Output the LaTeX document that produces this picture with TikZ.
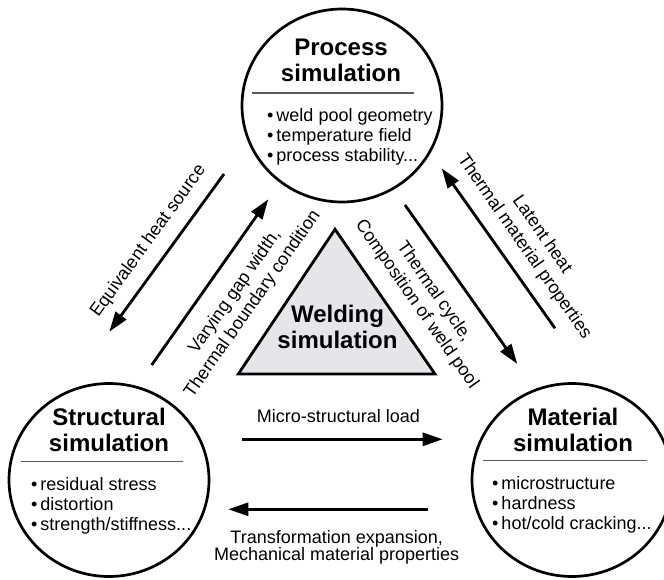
\documentclass[tikz,border=0pt]{standalone}
\usepackage{fontspec}
\setmainfont{Liberation Sans}
\usetikzlibrary{shapes.geometric,arrows.meta,positioning}
\definecolor{weldgrey}{RGB}{230,230,232}
\definecolor{rulegrey}{RGB}{90,90,90}

\begin{document}
\begin{tikzpicture}[x=1pt, y=-1pt,
    simcircle/.style={ellipse, draw, line width=2.7pt, minimum width=200pt,
        minimum height=193pt, inner sep=0pt},
    title/.style={font=\fontsize{24}{26}\selectfont\bfseries, align=center, inner sep=0pt},
    items/.style={font=\fontsize{18}{20}\selectfont, align=left, anchor=west, inner sep=0pt},
    lbl/.style={font=\fontsize{18}{21.5}\selectfont, align=center, inner sep=0pt},
    arr/.style={-{Triangle[length=20pt, width=13pt]}, line width=2.8pt},
    sep/.style={rulegrey, line width=1.2pt}
]
    \useasboundingbox (0,0) rectangle (664,580);

    % Process simulation
    \node[simcircle] (proc) at (342,105.5) {};
    \node[title] (proctitle) at (341,60.5) {Process\\simulation};
    \draw[sep] (252,93) -- (414,93);
    \node[items] (procitems) at (267,137) {\textbullet\,weld pool geometry\\
        \textbullet\,temperature field\\ \textbullet\,process stability...};

    % Structural simulation
    \node[simcircle] (struc) at (109,480) {};
    \node[title] (structitle) at (109,429.6) {Structural\\simulation};
    \draw[sep] (21,461.7) -- (183,461.7);
    \node[items] (strucitems) at (31,506) {\textbullet\,residual stress\\
        \textbullet\,distortion\\ \textbullet\,strength/stiffness...};

    % Material simulation
    \node[simcircle] (mat) at (572,480) {};
    \node[title] (mattitle) at (573,429.6) {Material\\simulation};
    \draw[sep] (483,460.7) -- (647,460.7);
    \node[items] (matitems) at (492,504.5) {\textbullet\,microstructure\\
        \textbullet\,hardness\\ \textbullet\,hot/cold cracking...};

    % Welding simulation
    \draw[line width=2.8pt, fill=weldgrey, line join=miter]
        (238.3,374) -- (335,229.3) -- (435,374) -- cycle;
    \node[title] (weld) at (337.5,327.4) {Welding\\simulation};

    % Process <-> Structural
    \coordinate (eqs) at (224,174);
    \coordinate (eqe) at (109.3,331.7);
    \coordinate (gaps) at (151.7,365);
    \coordinate (gape) at (268.3,199.3);
    \draw[arr] (eqs) -- (eqe);
    \draw[arr] (gaps) -- (gape);
    \node[lbl, rotate=54] (eqlbl) at (148.5,241) {Equivalent heat source};
    \node[lbl, rotate=55] (gaplbl) at (244,298) {Varying gap width,\\Thermal boundary condition};

    % Process <-> Material
    \coordinate (cycs) at (405,205);
    \coordinate (cyce) at (517.3,364);
    \coordinate (lats) at (555,328.3);
    \coordinate (late) at (441.7,168.3);
    \draw[arr] (cycs) -- (cyce);
    \draw[arr] (lats) -- (late);
    \node[lbl, rotate=-55] (cyclbl) at (425.3,298.2) {Thermal cycle,\\Composition of weld pool};
    \node[lbl, rotate=-55] (latlbl) at (533,240.8) {Latent heat\\Thermal material properties};

    % Structural <-> Material
    \coordinate (mics) at (242.3,439.3);
    \coordinate (mice) at (442.7,439.3);
    \coordinate (trs) at (428.3,509.3);
    \coordinate (tre) at (228.3,509.3);
    \draw[arr] (mics) -- (mice);
    \draw[arr] (trs) -- (tre);
    \node[lbl, anchor=base] (miclbl) at (338.3,422.7) {Micro-structural load};
    \node[lbl, font=\fontsize{18}{17.4}\selectfont] (trlbl) at (336.7,547.4)
        {Transformation expansion,\\Mechanical material properties};
\end{tikzpicture}
\end{document}
